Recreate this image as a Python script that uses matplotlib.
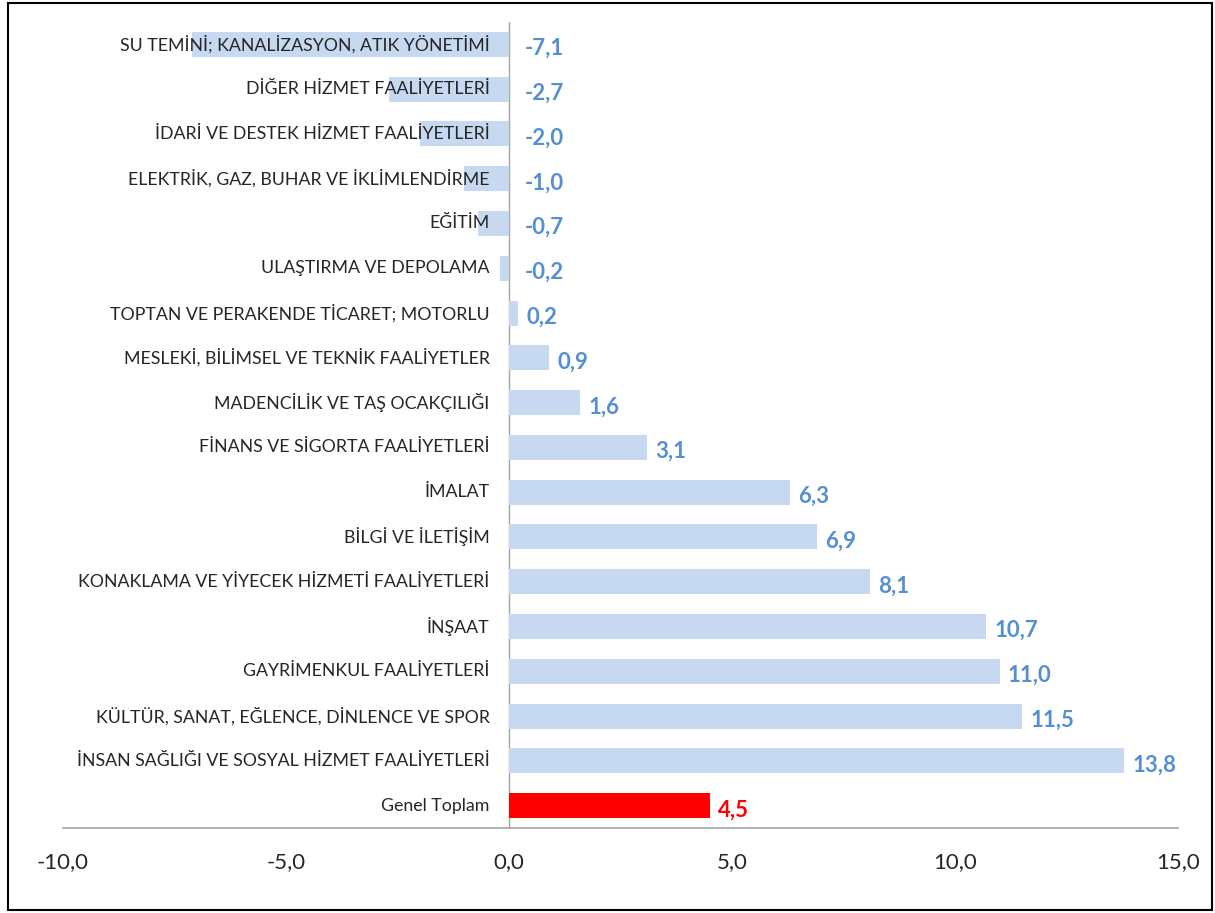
import matplotlib.pyplot as plt
import numpy as np
from matplotlib.patches import Rectangle

# categories top -> bottom
categories = [
    "SU TEMİNİ; KANALİZASYON, ATIK YÖNETİMİ",
    "DİĞER HİZMET FAALİYETLERİ",
    "İDARİ VE DESTEK HİZMET FAALİYETLERİ",
    "ELEKTRİK, GAZ, BUHAR VE İKLİMLENDİRME",
    "EĞİTİM",
    "ULAŞTIRMA VE DEPOLAMA",
    "TOPTAN VE PERAKENDE TİCARET; MOTORLU",
    "MESLEKİ, BİLİMSEL VE TEKNİK FAALİYETLER",
    "MADENCİLİK VE TAŞ OCAKÇILIĞI",
    "FİNANS VE SİGORTA FAALİYETLERİ",
    "İMALAT",
    "BİLGİ VE İLETİŞİM",
    "KONAKLAMA VE YİYECEK HİZMETİ FAALİYETLERİ",
    "İNŞAAT",
    "GAYRİMENKUL FAALİYETLERİ",
    "KÜLTÜR, SANAT, EĞLENCE, DİNLENCE VE SPOR",
    "İNSAN SAĞLIĞI VE SOSYAL HİZMET FAALİYETLERİ",
    "Genel Toplam",
]
values = [-7.1, -2.7, -2.0, -1.0, -0.7, -0.2, 0.2, 0.9, 1.6, 3.1,
          6.3, 6.9, 8.1, 10.7, 11.0, 11.5, 13.8, 4.5]
xticks = [-10, -5, 0, 5, 10, 15]

bar_color = "#C6D9F0"
label_color = "#558ED5"
total_color = "#FF0000"

plt.rcParams['font.family'] = ['Lato', 'DejaVu Sans']

fig = plt.figure(figsize=(12.15, 9.13), dpi=100)
ax = fig.add_axes([63 / 1215, 1 - 828 / 913, (1178 - 63) / 1215, (828 - 22) / 913])

n = len(categories)
y = np.arange(n)
colors = [bar_color] * (n - 1) + [total_color]
ax.barh(y, values, height=0.56, color=colors, zorder=2)

ax.set_ylim(n - 0.5, -0.5)
ax.set_xlim(-10, 15)

# category labels sit just left of the zero line
for i, cat in enumerate(categories):
    ax.annotate(cat, (0, i), xytext=(-14, 0), textcoords="offset points",
                ha="right", va="center", fontsize=12.8, color="#262626", zorder=3)

# value labels
for i, v in enumerate(values):
    c = total_color if i == n - 1 else label_color
    txt = f"{v:.1f}".replace(".", ",")
    x0 = max(v, 0)
    off = 11 if v < 0 else 6
    ax.annotate(txt, (x0, i), xytext=(off, -3), textcoords="offset points",
                ha="left", va="center", fontsize=16, fontweight="bold", color=c, zorder=3)

ax.axvline(0, color="#A6A6A6", lw=1, zorder=1)
for s in ["top", "right", "left"]:
    ax.spines[s].set_visible(False)
ax.spines["bottom"].set_color("#A6A6A6")
ax.spines["bottom"].set_linewidth(1.2)
ax.set_yticks([])
ax.set_xticks(xticks)
ax.set_xticklabels([f"{t:.1f}".replace(".", ",") for t in xticks], fontsize=16, color="#262626")
ax.tick_params(axis="x", length=0, pad=17)

# outer frame
fig.patches.append(Rectangle((8 / 1215, 3 / 913), 1204 / 1215, 907 / 913, transform=fig.transFigure,
                             fill=False, edgecolor="black", lw=1.5))

fig.savefig("out.png", dpi=100)
